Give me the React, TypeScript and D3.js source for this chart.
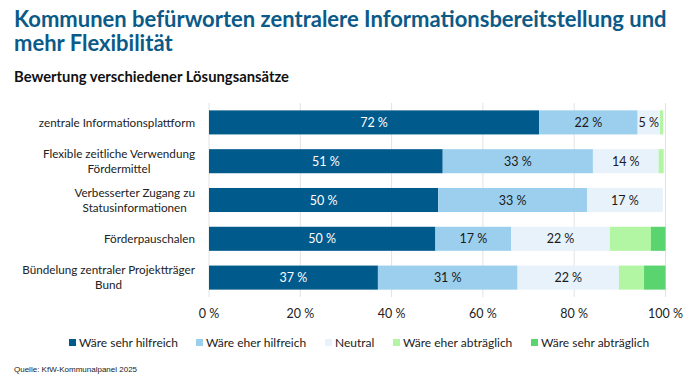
import { useRef, useEffect } from "react";
import * as d3 from "d3";

const categories = [
  ["zentrale Informationsplattform"],
  ["Flexible zeitliche Verwendung", "Fördermittel"],
  ["Verbesserter Zugang zu", "Statusinformationen"],
  ["Förderpauschalen"],
  ["Bündelung zentraler Projektträger", "Bund"],
];

const seriesNames = [
  "Wäre sehr hilfreich",
  "Wäre eher hilfreich",
  "Neutral",
  "Wäre eher abträglich",
  "Wäre sehr abträglich",
];

const sehrHilfreich = [72.3, 51.2, 50.2, 49.6, 37.0];
const eherHilfreich = [21.6, 32.9, 32.6, 16.6, 30.6];
const neutral = [4.9, 14.4, 16.6, 21.6, 22.2];
const eherAbtraeglich = [0.7, 1.1, 0, 9.0, 5.5];
const sehrAbtraeglich = [0, 0, 0, 3.2, 4.7];

const xTicks = [0, 20, 40, 60, 80, 100];

const colors = ["#005a8c", "#9ccfed", "#e7f2fb", "#b2f5a3", "#5ad46e"];
const labelColors = ["#ffffff", "#1a1a1a", "#1a1a1a"];

const FONT = "Lato, 'Noto Sans', sans-serif";

const App = () => {
  const ref = useRef<SVGSVGElement>(null);

  useEffect(() => {
    if (!ref.current) return;
    const svg = d3.select(ref.current);
    svg.selectAll("*").remove();

    const left = 209;
    const right = 665.5;
    const top = 103;
    const bottom = 297;

    const series = [sehrHilfreich, eherHilfreich, neutral, eherAbtraeglich, sehrAbtraeglich];
    const rows = categories.map((c, i) => {
      const r: any = { key: i };
      series.forEach((s, j) => (r[j] = s[i]));
      return r;
    });
    const stacked = d3.stack<any>().keys(series.map((_, j) => String(j)))(rows);

    const x = d3.scaleLinear().domain([0, 100]).range([left, right]);
    const y = d3
      .scaleBand<number>()
      .domain(categories.map((_, i) => i))
      .range([top, bottom])
      .paddingInner(0.38)
      .paddingOuter(0.19);

    // title
    svg
      .append("text")
      .attr("x", 14)
      .attr("y", 27)
      .attr("font-family", FONT)
      .attr("font-weight", "bold")
      .attr("font-size", 22)
      .attr("fill", "#0b5a87")
      .selectAll("tspan")
      .data([
        "Kommunen befürworten zentralere Informationsbereitstellung und",
        "mehr Flexibilität",
      ])
      .join("tspan")
      .attr("x", 14)
      .attr("dy", (d, i) => (i === 0 ? 0 : 24))
      .text((d) => d);

    svg
      .append("text")
      .attr("x", 14)
      .attr("y", 82)
      .attr("font-family", FONT)
      .attr("font-weight", "bold")
      .attr("font-size", 14.8)
      .attr("fill", "#111")
      .text("Bewertung verschiedener Lösungsansätze");

    // grid
    svg
      .append("g")
      .selectAll("line")
      .data(xTicks)
      .join("line")
      .attr("x1", (d) => x(d))
      .attr("x2", (d) => x(d))
      .attr("y1", top)
      .attr("y2", bottom)
      .attr("stroke", "#e2e2e2")
      .attr("stroke-width", 1);

    // bars
    svg
      .append("g")
      .selectAll("g")
      .data(stacked)
      .join("g")
      .attr("fill", (d, i) => colors[i])
      .selectAll("rect")
      .data((d) => d)
      .join("rect")
      .attr("x", (d) => x(d[0]))
      .attr("y", (d) => y(d.data.key)!)
      .attr("width", (d) => Math.max(0, x(d[1]) - x(d[0])))
      .attr("height", y.bandwidth());

    // segment labels (first three series)
    stacked.slice(0, 3).forEach((s, j) => {
      svg
        .append("g")
        .selectAll("text")
        .data(s.filter((d) => d[1] - d[0] >= 3))
        .join("text")
        .attr("x", (d) => (x(d[0]) + x(d[1])) / 2)
        .attr("y", (d) => y(d.data.key)! + y.bandwidth() / 2)
        .attr("dy", "0.36em")
        .attr("text-anchor", "middle")
        .attr("font-family", FONT)
        .attr("font-size", 12.5)
        .attr("fill", labelColors[j])
        .text((d) => `${Math.round(d[1] - d[0])} %`);
    });

    // category labels
    categories.forEach((lines, i) => {
      const g = svg.append("text").attr("font-family", FONT).attr("font-size", 11.7).attr("fill", "#222");
      const cy = y(i)! + y.bandwidth() / 2;
      const lh = 15;
      const t = g
        .selectAll("tspan")
        .data(lines)
        .join("tspan")
        .attr("text-anchor", "middle")
        .attr("y", (d, k) => cy + (k - (lines.length - 1) / 2) * lh)
        .attr("dy", "0.36em")
        .text((d) => d);
      let maxW = 0;
      t.each(function () {
        maxW = Math.max(maxW, (this as SVGTSpanElement).getComputedTextLength());
      });
      t.attr("x", 195 - maxW / 2);
    });

    // x axis labels
    svg
      .append("g")
      .selectAll("text")
      .data(xTicks)
      .join("text")
      .attr("x", (d) => x(d))
      .attr("y", 318)
      .attr("text-anchor", "middle")
      .attr("font-family", FONT)
      .attr("font-size", 12.5)
      .attr("fill", "#222")
      .text((d) => `${d} %`);

    // legend
    const legendX = [69, 196, 325, 393, 531];
    const lg = svg
      .append("g")
      .selectAll("g")
      .data(seriesNames)
      .join("g")
      .attr("transform", (d, i) => `translate(${legendX[i]},343)`);
    lg.append("rect")
      .attr("x", 0)
      .attr("y", -4)
      .attr("width", 7)
      .attr("height", 7)
      .attr("fill", (d, i) => colors[i]);
    lg.append("text")
      .attr("x", 10)
      .attr("dy", "0.36em")
      .attr("font-family", FONT)
      .attr("font-size", 12)
      .attr("fill", "#222")
      .text((d) => d);

    svg
      .append("text")
      .attr("x", 14)
      .attr("y", 372)
      .attr("font-family", "'Liberation Sans', Arial, sans-serif")
      .attr("font-size", 8)
      .attr("fill", "#222")
      .text("Quelle: KfW-Kommunalpanel 2025");
  }, []);

  return (
    <svg
      ref={ref}
      width={696}
      height={392}
      style={{ position: "absolute", left: 0, top: 0, background: "#fff" }}
    />
  );
};

export default App;
